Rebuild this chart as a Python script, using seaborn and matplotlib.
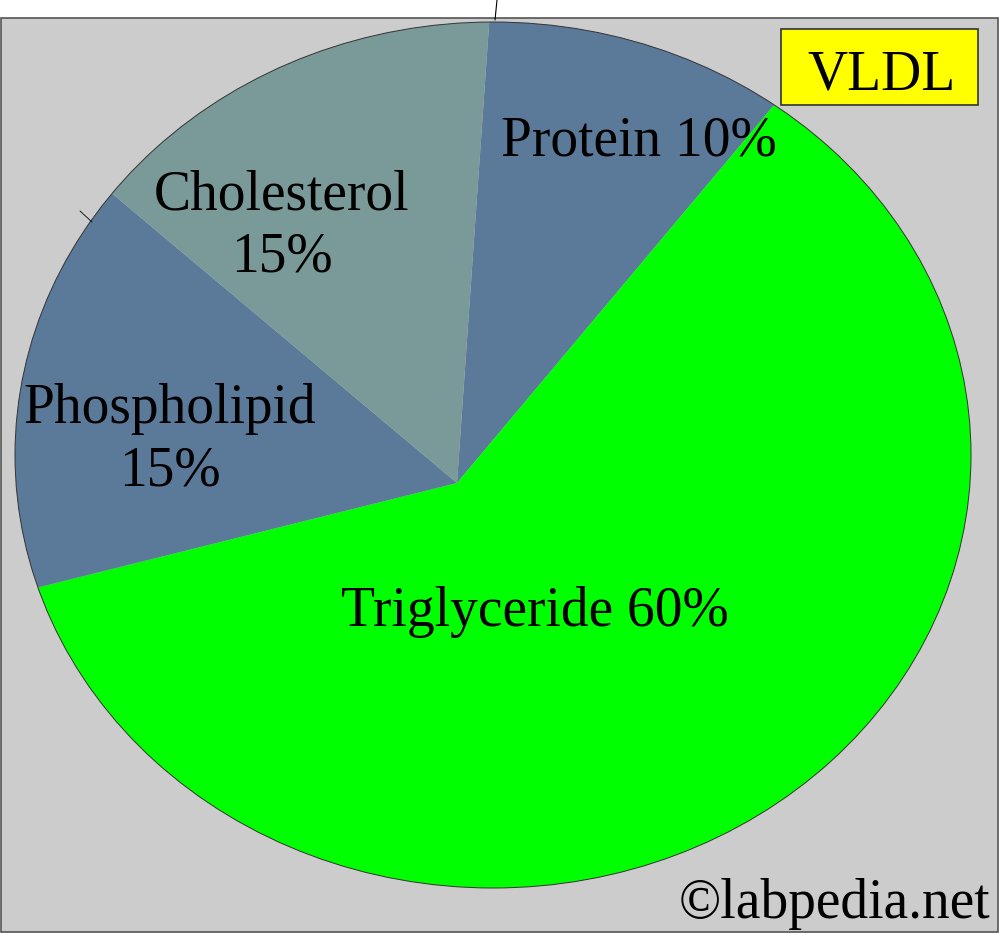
import matplotlib
matplotlib.use("Agg")
import matplotlib.pyplot as plt
from matplotlib.patches import Ellipse, Rectangle
import seaborn as sns

# VLDL composition
components = ["Protein", "Triglyceride", "Phospholipid", "Cholesterol"]
percent = [10, 60, 15, 15]
slice_colors = ["#5b7a9a", "#00ff00", "#5b7a9a", "#7a9a99"]
label_lines = [["Protein 10%"], ["Triglyceride 60%"], ["Phospholipid", "15%"], ["Cholesterol", "15%"]]

W, H = 1000, 934

sns.set_theme(style="white")
plt.rcParams["font.family"] = ["Liberation Serif", "DejaVu Serif"]
plt.rcParams["text.color"] = "black"

fig = plt.figure(figsize=(W / 100, H / 100), dpi=100, facecolor="white")
ax = fig.add_axes([0, 0, 1, 1])

# grey panel behind the pie
ax.add_patch(Rectangle((1, 2), 997, 914, facecolor="#cccccc", edgecolor="#555555", lw=1.2, zorder=0))

# pie apex is off the centre of the elliptical outline, so clip big wedges to the ellipse
apex = (457, 451)
outline = Ellipse((493, 479), 956, 866, transform=ax.transData)
wedges, _ = ax.pie(percent, colors=slice_colors, startangle=86, counterclock=False,
                   center=apex, radius=800, wedgeprops=dict(linewidth=0))
for w in wedges:
    w.set_clip_on(True)
    w.set_clip_path(outline)
    w.set_zorder(1)
ax.add_patch(Ellipse((493, 479), 956, 866, fill=False, edgecolor="#333333", lw=0.7, zorder=2))

# small stray leader ticks from the original drawing
ax.plot([497, 495], [934, 914], color="black", lw=0.8, zorder=3)
ax.plot([80, 92], [723, 712], color="black", lw=0.6, zorder=3)

# slice labels (x centre, first baseline)
label_pos = [(639, 779), (535, 308), (170, 511), (282, 724)]
for lines, (x, y) in zip(label_lines, label_pos):
    for i, line in enumerate(lines):
        ax.text(x, y - i * 62, line, ha="center", va="baseline", fontsize=40, color="black", zorder=4)

# title box
ax.add_patch(Rectangle((781, 829), 197, 76, facecolor="#ffff00", edgecolor="#333333", lw=1.2, zorder=3))
ax.text(882, 844, "VLDL", ha="center", va="baseline", fontsize=40, color="black", zorder=4)

ax.text(990, 16, "\u00a9labpedia.net", ha="right", va="baseline", fontsize=40, color="black", zorder=4)

ax.set_xlim(0, W)
ax.set_ylim(0, H)
ax.set_aspect("auto")
ax.axis("off")

fig.savefig("out.png", dpi=100, facecolor="white")
